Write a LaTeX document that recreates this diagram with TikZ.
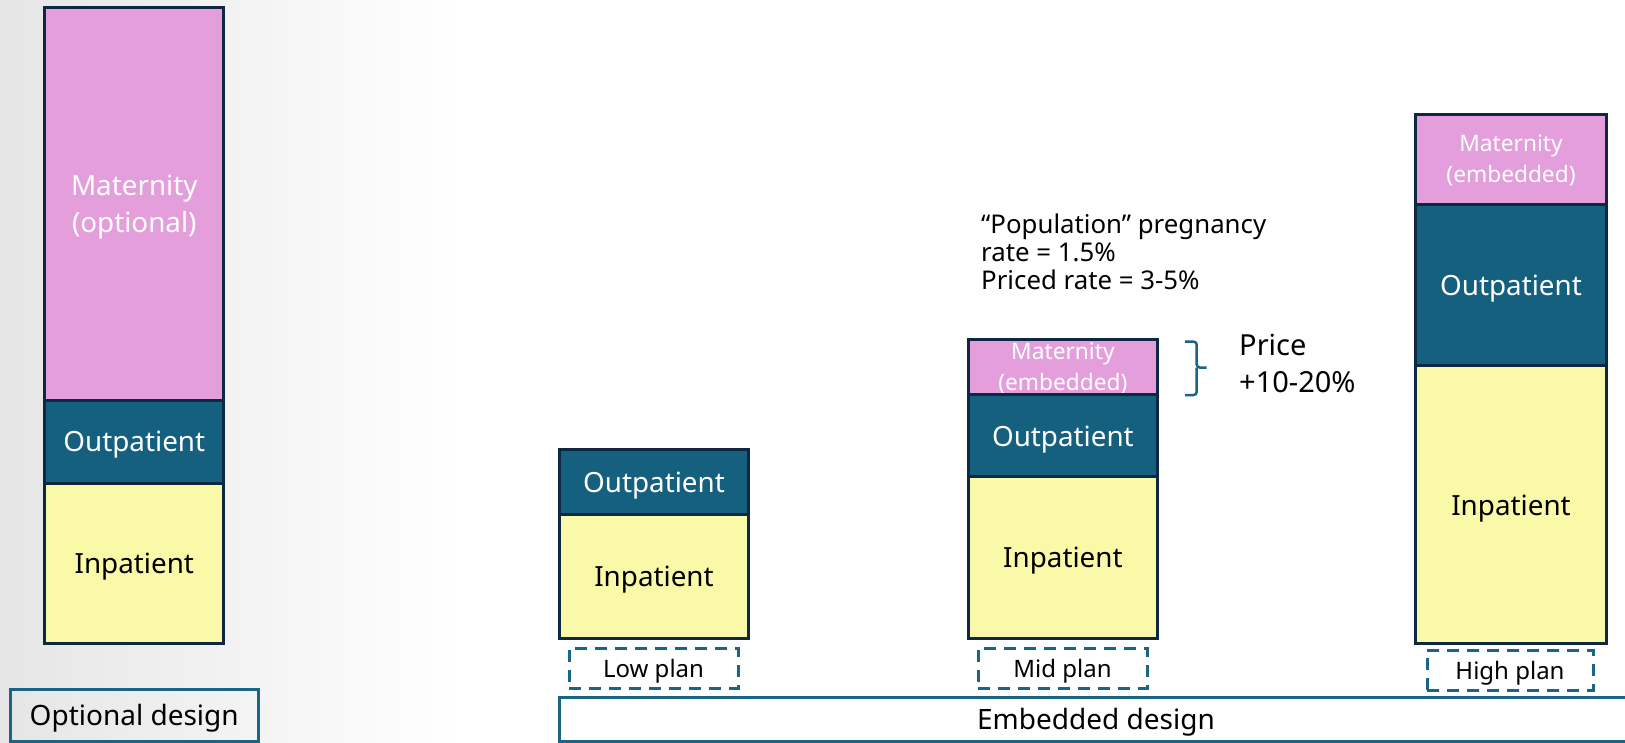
\documentclass[tikz,border=0pt]{standalone}
\usepackage{fontspec}
\setmainfont{Noto Sans}
\definecolor{mat}{HTML}{E49EDB}
\definecolor{outp}{HTML}{16607F}
\definecolor{inp}{HTML}{F9F9A8}
\definecolor{bord}{HTML}{0E2841}
\definecolor{dteal}{HTML}{1A6485}
\tikzset{
  seg/.style={draw=bord, line width=3bp, inner sep=0pt, align=center, text depth=0pt, font=\fontsize{27.8bp}{37bp}\selectfont},
  matseg/.style={seg, fill=mat, text=white},
  matsmall/.style={matseg, font=\fontsize{22.7bp}{31bp}\selectfont},
  outseg/.style={seg, fill=outp, text=white},
  inseg/.style={seg, fill=inp, text=black},
  planbox/.style={draw=dteal, line width=3bp, dash pattern=on 12bp off 8bp, inner sep=0pt, text depth=0pt, font=\fontsize{24bp}{28bp}\selectfont},
  designbox/.style={draw=dteal, line width=3bp, inner sep=0pt, text depth=0pt, font=\fontsize{28bp}{30bp}\selectfont},
  note/.style={inner sep=0pt, align=left}
}
\begin{document}
\begin{tikzpicture}[x=1bp,y=-1bp]
\useasboundingbox (0,0) rectangle (1625,743);
\shade[left color=black!10, right color=white] (0,0) rectangle (460,743);
\fill[white] (460,0) rectangle (1625,743);
% left bar
\node[matseg, minimum width=179.3bp, minimum height=392.7bp] (lmat) at (134.3,203.7) {Maternity\\(optional)};
\node[outseg, minimum width=179.3bp, minimum height=83bp] (lout) at (134.3,441.5) {Outpatient};
\node[inseg, minimum width=179.3bp, minimum height=160.6bp] (lin) at (134.3,563.3) {Inpatient};
\node[designbox, minimum width=247.6bp, minimum height=52bp] (optd) at (134.2,715) {Optional design};
% low plan
\node[outseg, minimum width=188.7bp, minimum height=64.2bp] (lowout) at (654,481.9) {Outpatient};
\node[inseg, minimum width=188.7bp, minimum height=124.4bp] (lowin) at (654,576.2) {Inpatient};
\node[planbox, minimum width=169bp, minimum height=40bp] (lowp) at (653.5,668) {Low plan};
% mid plan
\node[matsmall, minimum width=189.7bp, minimum height=55.9bp] (midmat) at (1062.9,367) {Maternity\\(embedded)};
\node[outseg, minimum width=189.7bp, minimum height=81.8bp] (midout) at (1062.9,435.8) {Outpatient};
\node[inseg, minimum width=189.7bp, minimum height=161.7bp] (midin) at (1062.9,557.6) {Inpatient};
\node[planbox, minimum width=169bp, minimum height=40bp] (midp) at (1062.5,668) {Mid plan};
% high plan
\node[matsmall, minimum width=190.7bp, minimum height=90.2bp] (himat) at (1511,159.1) {Maternity\\(embedded)};
\node[outseg, minimum width=190.7bp, minimum height=161.7bp] (hiout) at (1511,285) {Outpatient};
\node[inseg, minimum width=190.7bp, minimum height=277.7bp] (hiin) at (1511,504.8) {Inpatient};
\node[planbox, minimum width=166bp, minimum height=40bp] (hip) at (1510,670) {High plan};
% embedded design
\node[designbox, fill=white, minimum width=1073bp, minimum height=44bp] (embd) at (1096,719.3) {Embedded design};
% notes
\node[note, anchor=west, font=\fontsize{25.8bp}{28bp}\selectfont] (pop) at (981,252) {“Population” pregnancy\\rate = 1.5\%\\Priced rate = 3-5\%};
\node[note, anchor=west, font=\fontsize{29bp}{37bp}\selectfont] (price) at (1239,363) {Price\\+10-20\%};
% brace
\coordinate (bt) at (1185,341.7);
\coordinate (bb) at (1185,395);
\draw[dteal, line width=2.5bp, rounded corners=3bp] (bt) -- (1196.7,341.7) -- (1196.7,367.5) -- (1206.7,367.5);
\draw[dteal, line width=2.5bp, rounded corners=3bp] (bb) -- (1196.7,395) -- (1196.7,367.5);
\end{tikzpicture}
\end{document}
